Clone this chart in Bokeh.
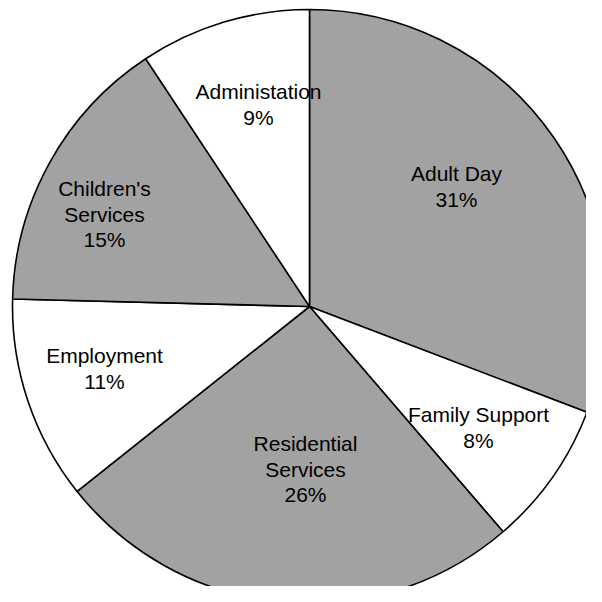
import math
from bokeh.plotting import figure
from bokeh.models import Range1d, ColumnDataSource
from bokeh.core.properties import value
from bokeh.embed import file_html
from bokeh.resources import INLINE

# ---- data ----
categories = ["Adult Day", "Family Support", "Residential Services",
              "Employment", "Children's Services", "Administation"]
shares = [30.8, 7.9, 25.6, 11.1, 15.3, 9.3]          # slice sizes (%)
pct_labels = ["31%", "8%", "26%", "11%", "15%", "9%"]
label_lines = [["Adult Day"], ["Family Support"], ["Residential", "Services"],
               ["Employment"], ["Children's", "Services"], ["Administation"]]
fills = ["#a2a2a2", "#ffffff", "#a2a2a2", "#ffffff", "#a2a2a2", "#ffffff"]

# ---- layout (screen-pixel coordinates; y measured downward from top) ----
W = 586
cx, cy, R = 309, 306, 297
label_x = [456, 478, 305, 104, 104, 258]
label_top = [173, 414, 443, 355, 188, 91]
line_h = 25.5

def Y(py):
    return W - py

p = figure(width=W, height=W, output_backend="svg", toolbar_location=None,
           x_range=Range1d(0, W), y_range=Range1d(0, W),
           x_axis_location=None, y_axis_location=None, min_border=0)
p.grid.visible = False
p.outline_line_color = None
p.background_fill_color = "white"
p.border_fill_color = "white"

total = sum(shares)
starts, ends = [], []
cum = 0.0
for s in shares:
    starts.append(math.pi / 2 - 2 * math.pi * cum / total)
    cum += s
    ends.append(math.pi / 2 - 2 * math.pi * cum / total)

src = ColumnDataSource(dict(x=[cx] * len(shares), y=[Y(cy)] * len(shares),
                            start=starts, end=ends, fill=fills, cat=categories))
p.wedge(x="x", y="y", radius=R, start_angle="start", end_angle="end",
        direction="clock", fill_color="fill", line_color="black",
        line_width=1.6, source=src)

tx, ty, tt = [], [], []
for i, lines in enumerate(label_lines):
    allines = lines + [pct_labels[i]]
    for k, t in enumerate(allines):
        tx.append(label_x[i])
        ty.append(Y(label_top[i] + k * line_h))
        tt.append(t)
p.text(x=tx, y=ty, text=tt, text_align="center", text_baseline="middle",
       text_font=value("Liberation Sans"), text_font_size="21px",
       text_color="black")

open("out.html", "w").write(file_html(p, INLINE))
